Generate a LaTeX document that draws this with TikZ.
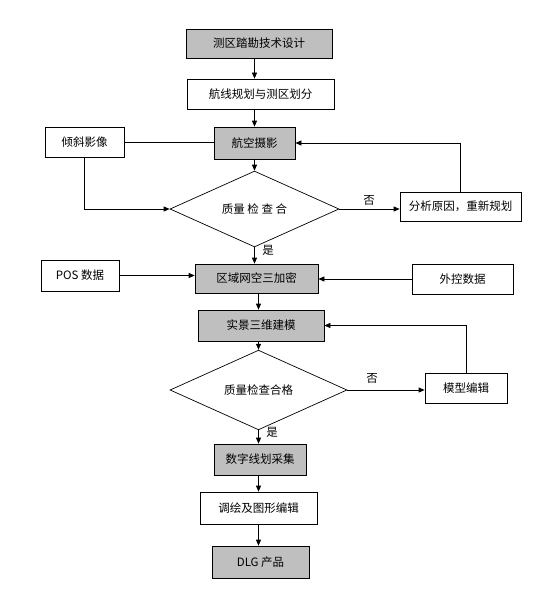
\documentclass[tikz,border=0pt]{standalone}
\usepackage{fontspec}
\newfontfamily\cjk{Noto Sans CJK SC}
\usetikzlibrary{arrows.meta,shapes.geometric}
\tikzset{
	box/.style={draw=black, line width=0.7pt, inner sep=0pt, font=\cjk\fontsize{11.5}{13}\selectfont},
	greybox/.style={box, fill=black!25},
	check/.style={draw=black, line width=0.7pt, shape=diamond, inner sep=0pt, font=\cjk\fontsize{11.5}{13}\selectfont},
	arr/.style={-{Triangle[length=6pt,width=5pt]}, line width=0.7pt},
	plain/.style={line width=0.7pt},
	yesno/.style={font=\cjk\fontsize{11.5}{13}\selectfont, inner sep=0pt}
}

\begin{document}
\begin{tikzpicture}[x=1pt, y=-1pt]
			%%%%% START %%%%%
			
			\useasboundingbox (0, 0) rectangle (556, 615);
			
			\node[greybox, minimum width=146pt, minimum height=29pt] (survey) at (259, 43.5) {测区踏勘技术设计};
			\node[box, minimum width=147pt, minimum height=30pt] (route) at (260.5, 94) {航线规划与测区划分};
			\node[greybox, minimum width=81pt, minimum height=32pt] (photo) at (254.5, 143) {航空摄影};
			\node[box, minimum width=79pt, minimum height=30pt] (oblique) at (84.5, 142) {倾斜影像};
			
			\node[check, minimum width=169pt, minimum height=58pt] (check1) at (254.5, 209) {质量 检 查 合};
			\node[box, minimum width=121pt, minimum height=29pt] (reason) at (460.5, 206.5) {分析原因，重新规划};
			
			\node[greybox, minimum width=123pt, minimum height=29pt] (aero) at (256.5, 278.5) {区域网空三加密};
			\node[box, minimum width=78pt, minimum height=31pt] (pos) at (80, 275.5) {POS 数据};
			\node[box, minimum width=101pt, minimum height=30pt] (gcp) at (462.5, 279) {外控数据};
			
			\node[greybox, minimum width=126pt, minimum height=31pt] (model) at (261, 325.5) {实景三维建模};
			\node[check, minimum width=177pt, minimum height=58pt] (check2) at (258.5, 390) {质量检查合格};
			\node[box, minimum width=82pt, minimum height=30pt] (edit) at (466, 388) {模型编辑};
			
			\node[greybox, minimum width=92pt, minimum height=31pt] (capture) at (260, 459.5) {数字线划采集};
			\node[box, minimum width=117pt, minimum height=32pt] (annot) at (258.5, 508) {调绘及图形编辑};
			\node[greybox, minimum width=97pt, minimum height=32pt] (dlg) at (260.5, 562) {DLG 产品};
			
			\node[yesno] (no1) at (369, 200) {否};
			\node[yesno] (yes1) at (268, 250) {是};
			\node[yesno] (no2) at (372, 378) {否};
			\node[yesno] (yes2) at (272, 432) {是};
			
			\draw[arr] (survey.south -| photo.north) -- (route.north -| photo.north);
			\draw[arr] (route.south -| photo.north) -- (photo.north);
			\draw[arr] (photo.south) -- (photo.south |- check1.north);
			\draw[plain] (oblique.east) -- (oblique.east -| photo.west);
			\draw[arr] (oblique.south) |- (check1.west);
			\draw[arr] (check1.east) -- (check1.east -| reason.west);
			\draw[arr] (reason.north) |- (photo.east);
			\draw[arr] (check1.south) -- (check1.south |- aero.north);
			
			\draw[arr] (pos.east) -- (pos.east -| aero.west);
			\draw[arr] (gcp.west) -- (gcp.west -| aero.east);
			\draw[arr] (aero.south -| check2.north) -- (model.north -| check2.north);
			\draw[arr] (model.south -| check2.north) -- (check2.north);
			\draw[arr] (check2.east) -- (check2.east -| edit.west);
			\draw[arr] (edit.north) |- (model.east);
			\draw[arr] (check2.south) -- (check2.south |- capture.north);
			
			\draw[arr] (capture.south -| check2.south) -- (annot.north -| check2.south);
			\draw[arr] (annot.south -| check2.south) -- (dlg.north -| check2.south);
			
			%%%%% END %%%%%
\end{tikzpicture}
\end{document}
